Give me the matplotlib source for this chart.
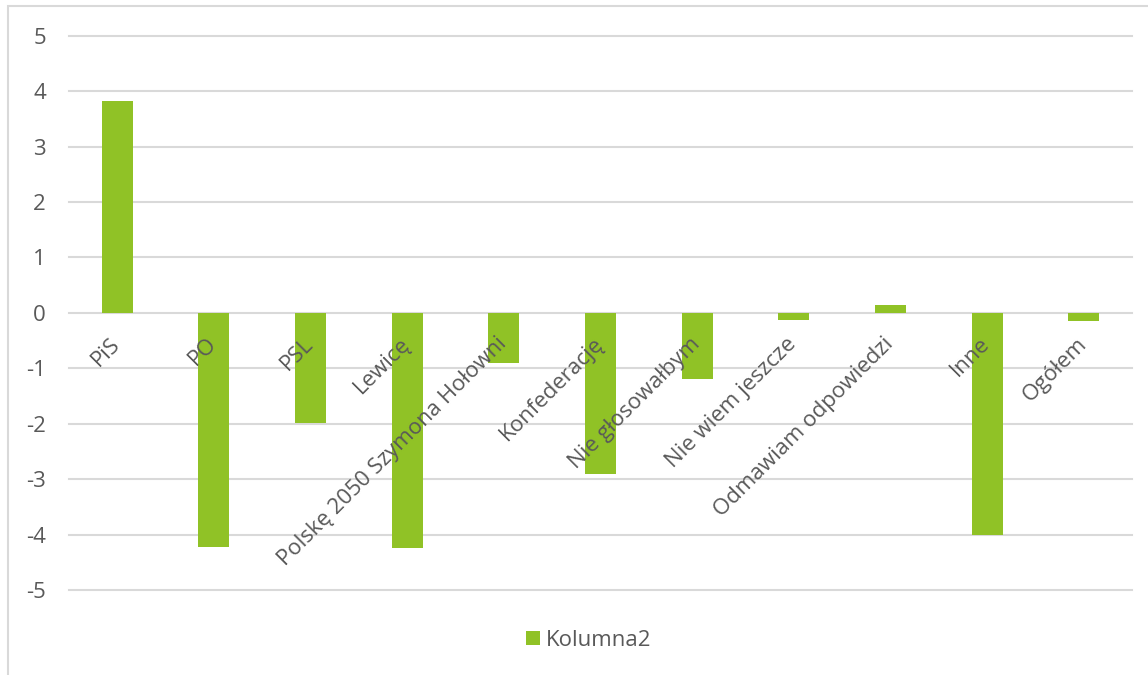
import matplotlib.pyplot as plt
from matplotlib.patches import Rectangle, Patch

categories = ['PiS', 'PO', 'PSL', 'Lewicę', 'Polskę 2050 Szymona Hołowni',
              'Konfederację', 'Nie głosowałbym', 'Nie wiem jeszcze',
              'Odmawiam odpowiedzi', 'Inne', 'Ogółem']
values = [3.83, -4.22, -1.99, -4.25, -0.9, -2.91, -1.2, -0.12, 0.14, -4.0, -0.14]
yticks = [5, 4, 3, 2, 1, 0, -1, -2, -3, -4, -5]
series_name = 'Kolumna2'

green = '#90C226'
text_gray = '#595959'
grid_gray = '#D9D9D9'

plt.rcParams['font.family'] = ['Open Sans', 'DejaVu Sans']

fig = plt.figure(figsize=(11.48, 6.75), dpi=100)
ax = fig.add_axes([69 / 1148, 1 - 590 / 675, 1063 / 1148, (590 - 35.7) / 675])

x = list(range(len(categories)))
ax.bar(x, values, width=0.32, color=green, zorder=3)

ax.set_xlim(-0.5, len(categories) - 0.5)
ax.set_ylim(-5, 5)
ax.set_yticks(yticks)
ax.set_yticklabels([str(t) for t in yticks])
for t in yticks:
    ax.axhline(t, color=grid_gray, lw=1.5, zorder=1, clip_on=False)

ax.set_xticks([])
ax.tick_params(axis='y', length=0, pad=16.5, labelsize=16, labelcolor=text_gray)
for s in ax.spines.values():
    s.set_visible(False)

# rotated category labels hanging from the zero line
for i, name in enumerate(categories):
    ax.text(i - 0.08, -0.37, name, rotation=45, ha='right', va='top',
            rotation_mode='anchor', fontsize=16, color=text_gray, zorder=4)

handle = Patch(facecolor=green, edgecolor='none')
fig.legend([handle], [series_name], loc='center', bbox_to_anchor=(589 / 1148, 1 - 640 / 675),
           frameon=False, fontsize=16, labelcolor=text_gray, handlelength=0.6,
           handleheight=0.6, handletextpad=0.3)

# outer chart border
fig.patches.append(Rectangle((8 / 1148, -0.1), 1.2, 1 - 6 / 675 + 0.1, transform=fig.transFigure,
                             fill=False, edgecolor=grid_gray, lw=1.5))

fig.savefig('out.png', dpi=100, facecolor='white')
